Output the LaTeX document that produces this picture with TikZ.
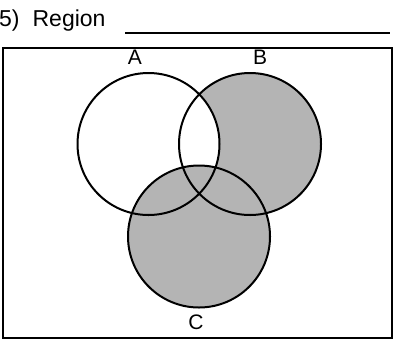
\documentclass[tikz,border=0pt]{standalone}
\usepackage{fontspec}
\setmainfont{Liberation Sans}
\usepackage{tikz}
\usetikzlibrary{positioning}
\definecolor{setgray}{RGB}{180, 180, 180}

\begin{document}
\begin{tikzpicture}[x=1pt, y=-1pt,
    setcirc/.style={draw=black, line width=2pt, circle, minimum size=142pt, inner sep=0pt},
    setlabel/.style={inner sep=0pt}]
  \useasboundingbox (0,0) rectangle (403,343);
  % Centres
  \coordinate (ca) at (148.5,144);
  \coordinate (cb) at (250,144);
  \coordinate (cc) at (199,236.5);
  % Shading
  \fill[setgray] (cb) circle (71);
  \begin{scope}
    \clip (ca) circle (71);
    \fill[white] (cb) circle (71);
  \end{scope}
  \fill[setgray] (cc) circle (71);
  % Circles
  \foreach \s in {a,b,c} {
    \node[setcirc] (\s) at (c\s) {};
  }
  % Labels
  \node[setlabel] (la) at (135,57) {\fontsize{21pt}{21pt}\selectfont A};
  \node[setlabel] (lb) at (260,57) {\fontsize{21pt}{21pt}\selectfont B};
  \node[setlabel] (lc) at (196,322) {\fontsize{21pt}{21pt}\selectfont C};
  % Frame
  \node[draw, line width=1.6pt, minimum width=389pt, minimum height=290pt, inner sep=0pt]
    (frame) at (197.5,193) {};
  \node[anchor=base west, inner sep=0pt]
    (title) at (-1,26) {\fontsize{23pt}{23pt}\selectfont 5)\hspace{13pt}Region};
  \coordinate (u1) at (125,33);
  \coordinate (u2) at (390,33);
  \draw[line width=1.5pt] (u1) -- (u2);
\end{tikzpicture}
\end{document}
